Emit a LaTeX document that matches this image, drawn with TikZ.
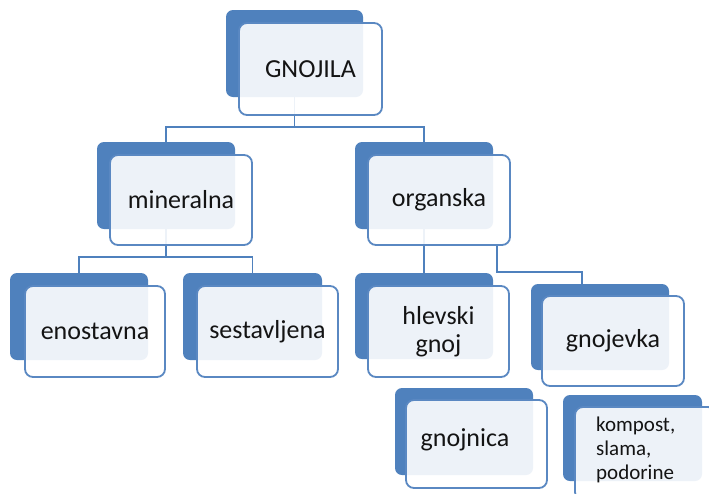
\documentclass[tikz,border=0pt]{standalone}
\usepackage{fontspec}
\setmainfont{Carlito}
\usetikzlibrary{fit}
\definecolor{bb}{HTML}{4F81BD}
\definecolor{fb}{HTML}{5A88C2}
\definecolor{tx}{HTML}{141414}
\begin{document}
\begin{tikzpicture}[x=1pt,y=-1pt,
  backbox/.style={fill=bb, draw=none, rounded corners=7pt, inner sep=0pt},
  frontbox/.style={draw=fb, line width=1.8pt, fill=white, fill opacity=0.9, text opacity=1,
    rounded corners=8pt, inner sep=0pt, text=tx, align=center,
    font=\fontsize{26}{28}\selectfont},
  lbl/.style={text=tx, inner sep=0pt, font=\fontsize{26}{28}\selectfont},
  conn/.style={draw=bb, line width=1.8pt}]
\clip (0,0) rectangle (709,493);
\useasboundingbox (0,0) rectangle (709,493);
\fill[white] (0,0) rectangle (709,493);

% back rectangles
\node[backbox, fit={(226,10)(363,97)}] (gB) {};
\node[backbox, fit={(97,142)(235,229)}] (mB) {};
\node[backbox, fit={(355,142)(493,229)}] (oB) {};
\node[backbox, fit={(10,273)(148,360)}] (eB) {};
\node[backbox, fit={(183,273)(322,360)}] (sB) {};
\node[backbox, fit={(355,273)(493,359)}] (hB) {};
\node[backbox, fit={(531,284)(669,370)}] (nB) {};
\node[backbox, fit={(395,388)(533,475)}] (jB) {};
\node[backbox, fit={(563,395)(702,481)}] (kB) {};

% connectors
\coordinate (oc) at (497,245);
\coordinate (nj) at (582,284);
\draw[conn] (gB.south) -- ++(0,30) -| (mB.north);
\draw[conn] (gB.south) -- ++(0,30) -| (oB.north);
\draw[conn] (mB.south) -- ++(0,28) -| (eB.north);
\draw[conn] (mB.south) -- ++(0,28) -| (sB.north);
\draw[conn] (oB.south) -- (hB.north);
\draw[conn] (oc) -- ++(0,27) -| (nj);

% front boxes
\node[frontbox, minimum width=143pt, minimum height=92pt] (g) at (310.5,69) {GNOJILA};
\node[frontbox, minimum width=142pt, minimum height=90pt] (m) at (181,200) {mineralna};
\node[frontbox, minimum width=142pt, minimum height=90pt] (o) at (439,200) {organska};
\node[frontbox, minimum width=140pt, minimum height=91pt] (e) at (95,331.5) {enostavna};
\node[frontbox, minimum width=141pt, minimum height=91pt] (s) at (267.5,331.5) {sestavljena};
\node[frontbox, minimum width=141pt, minimum height=91pt] (h) at (438.5,331.5) {hlevski\\gnoj};
\node[frontbox, minimum width=142pt, minimum height=90pt] (n) at (613,341) {gnojevka};
\node[frontbox, minimum width=141pt, minimum height=88pt] (j) at (476.5,444) {};
\node[frontbox, minimum width=141pt, minimum height=93pt] (k) at (645.5,453.5) {};

% texts placed off-centre
\node[lbl] (jT) at (465,440) {gnojnica};
\node[text=tx, inner sep=0pt, anchor=north west, align=left,
      font=\fontsize{21}{24}\selectfont] (kT) at (596,417) {kompost,\\slama,\\podorine};
\end{tikzpicture}
\end{document}
